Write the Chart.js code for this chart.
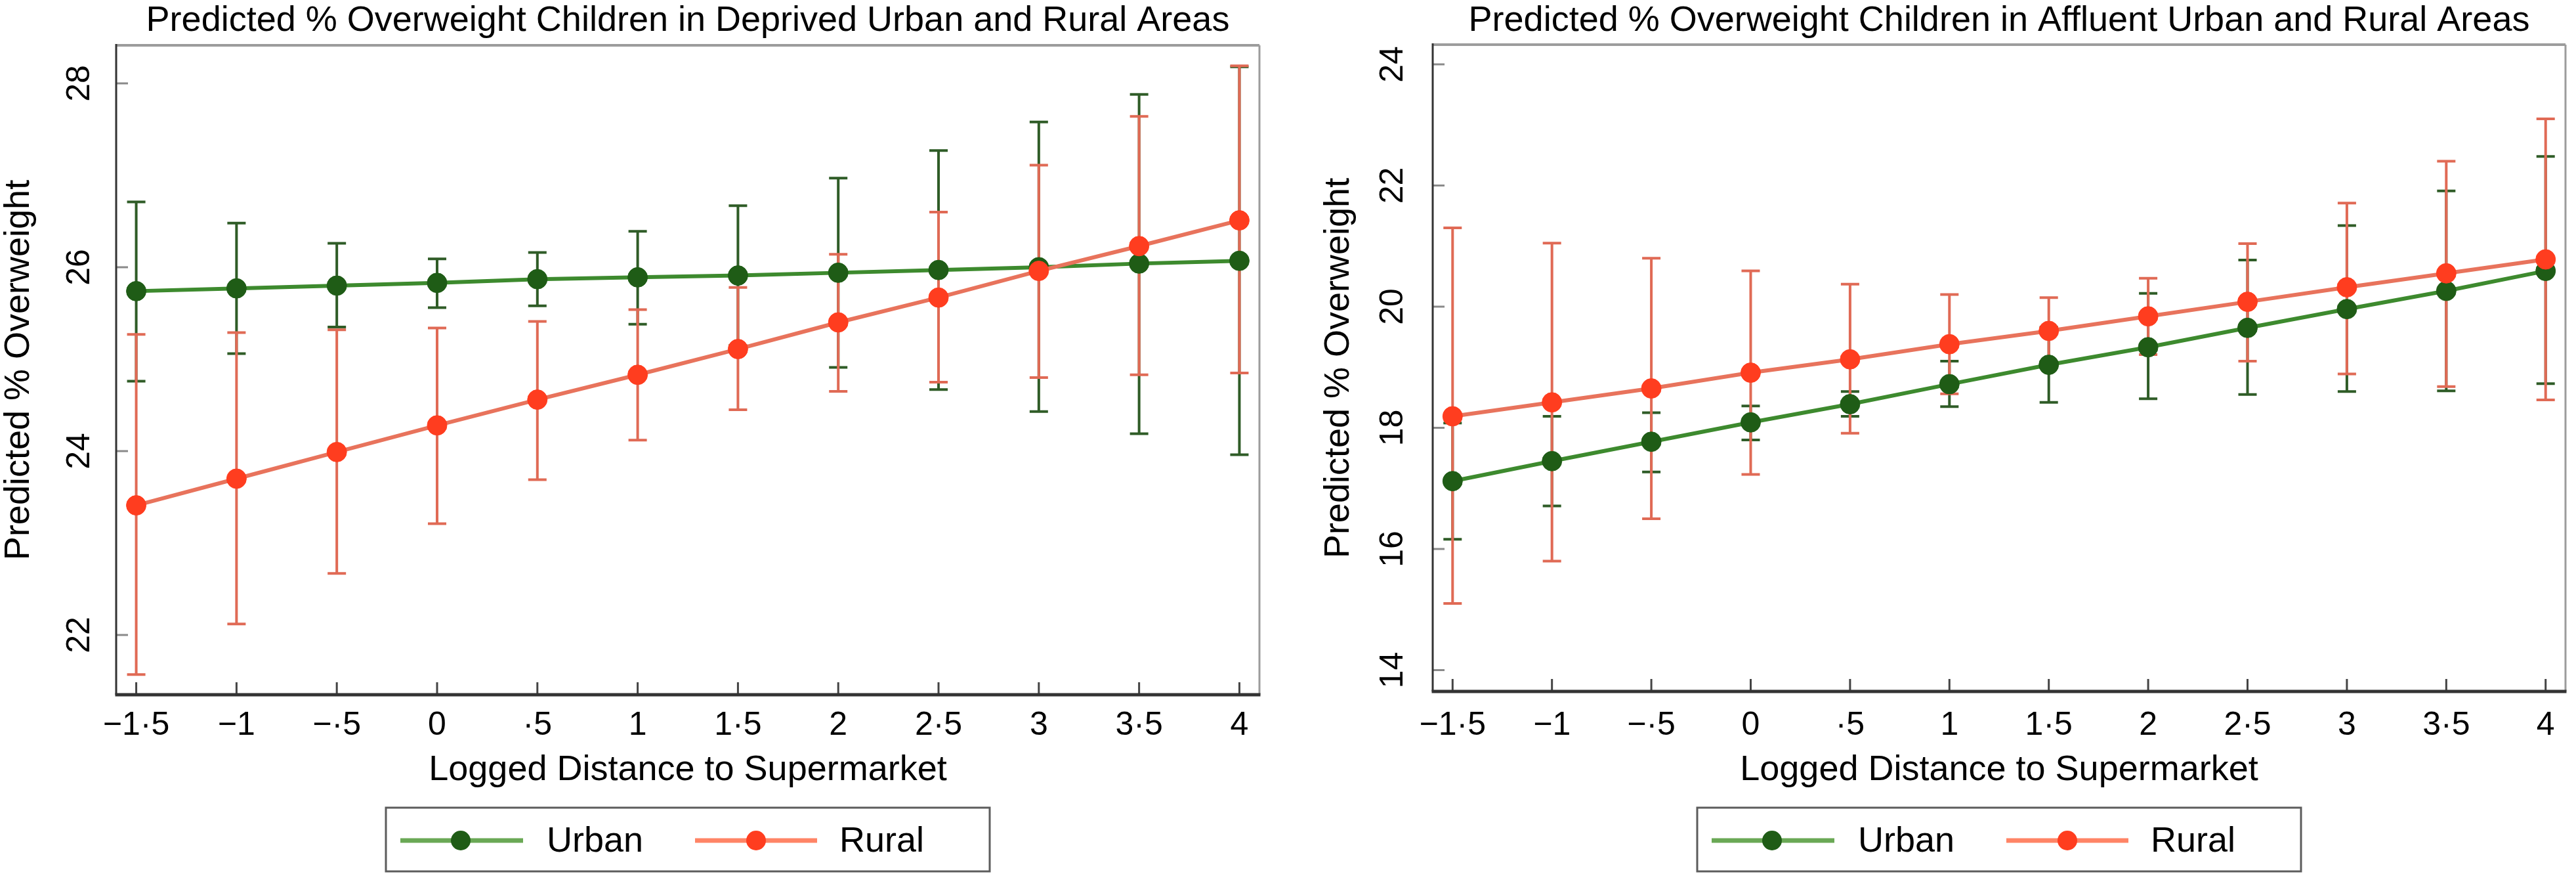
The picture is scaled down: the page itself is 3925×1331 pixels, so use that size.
<!DOCTYPE html>
<html>
<head>
<meta charset="utf-8">
<script src="https://cdn.jsdelivr.net/npm/chart.js@4.4.0/dist/chart.umd.min.js"></script>
<style>
html,body{margin:0;padding:0;background:#fff;overflow:hidden;width:3925px;height:1331px;}
canvas{position:absolute;top:0;}
#c1{left:0;}
#c2{left:1960px;}
</style>
</head>
<body>
<canvas id="c1" width="1960" height="1331"></canvas>
<canvas id="c2" width="1965" height="1331"></canvas>
<script>
// ---------- data ----------
const xValues = [-1.5, -1, -0.5, 0, 0.5, 1, 1.5, 2, 2.5, 3, 3.5, 4];
const xTickLabels = ["\u22121\u00b75", "\u22121", "\u2212\u00b75", "0", "\u00b75", "1", "1\u00b75", "2", "2\u00b75", "3", "3\u00b75", "4"];
const seriesNames = ["Urban", "Rural"];

const deprivedTitle = "Predicted % Overweight Children in Deprived Urban and Rural Areas";
const affluentTitle = "Predicted % Overweight Children in Affluent Urban and Rural Areas";
const xAxisTitle = "Logged Distance to Supermarket";
const yAxisTitle = "Predicted % Overweight";

const deprivedYTicks = [22, 24, 26, 28];
const affluentYTicks = [14, 16, 18, 20, 22, 24];

const deprivedUrban   = [25.74, 25.77, 25.80, 25.83, 25.87, 25.89, 25.91, 25.94, 25.97, 26.00, 26.04, 26.07];
const deprivedUrbanLo = [24.76, 25.06, 25.35, 25.56, 25.58, 25.38, 25.15, 24.91, 24.67, 24.43, 24.19, 23.96];
const deprivedUrbanHi = [26.71, 26.48, 26.26, 26.09, 26.16, 26.39, 26.67, 26.97, 27.27, 27.58, 27.88, 28.18];

const deprivedRural   = [23.41, 23.70, 23.99, 24.28, 24.56, 24.83, 25.11, 25.40, 25.67, 25.96, 26.23, 26.51];
const deprivedRuralLo = [21.57, 22.12, 22.67, 23.21, 23.69, 24.12, 24.45, 24.65, 24.75, 24.80, 24.83, 24.85];
const deprivedRuralHi = [25.27, 25.29, 25.32, 25.34, 25.41, 25.54, 25.78, 26.14, 26.60, 27.11, 27.64, 28.19];

const affluentUrban   = [17.12, 17.45, 17.77, 18.09, 18.39, 18.72, 19.04, 19.33, 19.65, 19.96, 20.26, 20.59];
const affluentUrbanLo = [16.16, 16.71, 17.27, 17.80, 18.19, 18.35, 18.42, 18.48, 18.55, 18.60, 18.61, 18.73];
const affluentUrbanHi = [18.08, 18.19, 18.25, 18.36, 18.60, 19.10, 19.66, 20.22, 20.77, 21.34, 21.91, 22.48];

const affluentRural   = [18.19, 18.42, 18.65, 18.91, 19.13, 19.38, 19.60, 19.84, 20.08, 20.32, 20.55, 20.78];
const affluentRuralLo = [15.10, 15.80, 16.50, 17.23, 17.91, 18.56, 19.05, 19.21, 19.10, 18.89, 18.68, 18.46];
const affluentRuralHi = [21.30, 21.05, 20.80, 20.59, 20.37, 20.20, 20.15, 20.47, 21.04, 21.71, 22.40, 23.10];

// ---------- styling ----------
const FONT = "'Liberation Sans', Arial, Helvetica, sans-serif";
const URBAN_LINE = '#3d8a2e', URBAN_MARK = '#1f5c16', URBAN_ERR = '#2f5c27', URBAN_LEG = '#6aa855';
const RURAL_LINE = '#e8735c', RURAL_MARK = '#ff3d1f', RURAL_ERR = '#e06a55', RURAL_LEG = '#ff8466';

// error bars, frame, inner ticks and legend
const decorPlugin = {
  id: 'decor',
  beforeDatasetsDraw(chart) {
    const ctx = chart.ctx, xs = chart.scales.x, ys = chart.scales.y;
    ctx.save();
    chart.data.datasets.forEach(ds => {
      ctx.strokeStyle = ds.errColor;
      ctx.lineWidth = 4;
      ctx.lineCap = 'butt';
      xValues.forEach((xv, i) => {
        const px = xs.getPixelForValue(xv);
        const pl = ys.getPixelForValue(ds.errLo[i]);
        const ph = ys.getPixelForValue(ds.errHi[i]);
        ctx.beginPath();
        ctx.moveTo(px, pl); ctx.lineTo(px, ph);
        ctx.moveTo(px - 14, pl); ctx.lineTo(px + 14, pl);
        ctx.moveTo(px - 14, ph); ctx.lineTo(px + 14, ph);
        ctx.stroke();
      });
    });
    ctx.restore();
  },
  afterDraw(chart) {
    const ctx = chart.ctx, ca = chart.chartArea, xs = chart.scales.x, ys = chart.scales.y;
    ctx.save();
    // inner ticks
    ctx.lineWidth = 3;
    ctx.strokeStyle = '#444';
    xs.ticks.forEach(t => {
      const px = xs.getPixelForValue(t.value);
      ctx.beginPath(); ctx.moveTo(px, ca.bottom); ctx.lineTo(px, ca.bottom - 19); ctx.stroke();
    });
    ctx.strokeStyle = '#8a8a8a';
    ys.ticks.forEach(t => {
      const py = ys.getPixelForValue(t.value);
      ctx.beginPath(); ctx.moveTo(ca.left, py); ctx.lineTo(ca.left + 18, py); ctx.stroke();
    });
    // frame
    ctx.strokeStyle = '#9c9c9c';
    ctx.lineWidth = 4;
    ctx.beginPath(); ctx.moveTo(ca.left, ca.top); ctx.lineTo(ca.right, ca.top); ctx.stroke();
    ctx.lineWidth = 3;
    ctx.beginPath(); ctx.moveTo(ca.right, ca.top); ctx.lineTo(ca.right, ca.bottom); ctx.stroke();
    ctx.strokeStyle = '#333';
    ctx.lineWidth = 3;
    ctx.beginPath(); ctx.moveTo(ca.left, ca.top - 2); ctx.lineTo(ca.left, ca.bottom); ctx.stroke();
    ctx.lineWidth = 5;
    ctx.beginPath(); ctx.moveTo(ca.left - 1.5, ca.bottom); ctx.lineTo(ca.right + 1.5, ca.bottom); ctx.stroke();

    // legend
    const cx = (ca.left + ca.right) / 2;
    const bw = 920, bl = cx - bw / 2, bt = 1230, bb = 1327, ly = 1280;
    ctx.strokeStyle = '#5c5c5c';
    ctx.lineWidth = 3;
    ctx.strokeRect(bl, bt, bw, bb - bt);
    const items = [
      {name: seriesNames[0], line: URBAN_LEG, mark: URBAN_MARK, l0: 22, l1: 209, m: 114, t: 245},
      {name: seriesNames[1], line: RURAL_LEG, mark: RURAL_MARK, l0: 471, l1: 657, m: 564, t: 691}
    ];
    items.forEach(it => {
      ctx.strokeStyle = it.line;
      ctx.lineWidth = 7;
      ctx.beginPath(); ctx.moveTo(bl + it.l0, ly); ctx.lineTo(bl + it.l1, ly); ctx.stroke();
      ctx.fillStyle = it.mark;
      ctx.beginPath(); ctx.arc(bl + it.m, ly, 15, 0, Math.PI * 2); ctx.fill();
      ctx.fillStyle = '#000';
      ctx.font = '54px ' + FONT;
      ctx.textAlign = 'left';
      ctx.textBaseline = 'middle';
      ctx.fillText(it.name, bl + it.t, ly + 2);
    });
    ctx.restore();
  }
};

function makeChart(id, cfg) {
  const mk = (vals) => xValues.map((x, i) => ({x: x, y: vals[i]}));
  return new Chart(document.getElementById(id), {
    type: 'line',
    data: {
      datasets: [
        {label: seriesNames[0], data: mk(cfg.urban), errLo: cfg.urbanLo, errHi: cfg.urbanHi, errColor: URBAN_ERR,
         borderColor: URBAN_LINE, borderWidth: 6, pointRadius: 15, pointBackgroundColor: URBAN_MARK,
         pointBorderColor: URBAN_MARK, pointBorderWidth: 1, tension: 0, order: 1},
        {label: seriesNames[1], data: mk(cfg.rural), errLo: cfg.ruralLo, errHi: cfg.ruralHi, errColor: RURAL_ERR,
         borderColor: RURAL_LINE, borderWidth: 6, pointRadius: 15, pointBackgroundColor: RURAL_MARK,
         pointBorderColor: RURAL_MARK, pointBorderWidth: 1, tension: 0, order: 0}
      ]
    },
    options: {
      responsive: false,
      animation: false,
      devicePixelRatio: 1,
      events: [],
      layout: {padding: {left: 0, right: cfg.padR, top: 0, bottom: 131}},
      plugins: {
        legend: {display: false},
        tooltip: {enabled: false},
        title: {display: true, text: cfg.title, fullSize: false, color: '#000',
                font: {family: FONT, size: 54, weight: 'normal', lineHeight: 1.2},
                padding: {top: 0, bottom: cfg.titlePadB}}
      },
      scales: {
        x: {
          type: 'linear', min: -1.6, max: 4.1,
          afterBuildTicks: s => { s.ticks = xValues.map(v => ({value: v})); },
          afterFit: s => { s.height = cfg.xH; },
          ticks: {callback: (v, i) => xTickLabels[i], font: {family: FONT, size: 50, lineHeight: 1.2}, color: '#000',
                  padding: cfg.xPad, minRotation: 0, maxRotation: 0, autoSkip: false},
          grid: {display: false, drawTicks: false},
          border: {display: false},
          title: {display: true, text: xAxisTitle, color: '#000', font: {family: FONT, size: 54, lineHeight: 1},
                  padding: {top: 0, bottom: 0}}
        },
        y: {
          type: 'linear', min: cfg.yMin, max: cfg.yMax,
          afterBuildTicks: s => { s.ticks = cfg.yTicks.map(v => ({value: v})); },
          afterFit: s => { s.width = cfg.yW; },
          ticks: {callback: v => String(v), font: {family: FONT, size: 50, lineHeight: 1.2}, color: '#000',
                  padding: cfg.yPad, minRotation: 90, maxRotation: 90, crossAlign: 'center', autoSkip: false},
          grid: {display: false, drawTicks: false},
          border: {display: false},
          title: {display: true, text: yAxisTitle, color: '#000', font: {family: FONT, size: 54, lineHeight: 1},
                  padding: {top: cfg.yTitlePad, bottom: 0}}
        }
      }
    },
    plugins: [decorPlugin]
  });
}

makeChart('c1', {
  title: deprivedTitle, urban: deprivedUrban, urbanLo: deprivedUrbanLo, urbanHi: deprivedUrbanHi,
  rural: deprivedRural, ruralLo: deprivedRuralLo, ruralHi: deprivedRuralHi,
  yTicks: deprivedYTicks, yMin: 21.35, yMax: 28.414,
  padR: 41, yW: 177, xH: 142, titlePadB: 4.2, xPad: 17.4, yPad: 27.2, yTitlePad: 2.6
});
makeChart('c2', {
  title: affluentTitle, urban: affluentUrban, urbanLo: affluentUrbanLo, urbanHi: affluentUrbanHi,
  rural: affluentRural, ruralLo: affluentRuralLo, ruralHi: affluentRuralHi,
  yTicks: affluentYTicks, yMin: 13.648, yMax: 24.325,
  padR: 7, yW: 223, xH: 147, titlePadB: 3.2, xPad: 22.4, yPad: 31.8, yTitlePad: 53.6
});
</script>
</body>
</html>
